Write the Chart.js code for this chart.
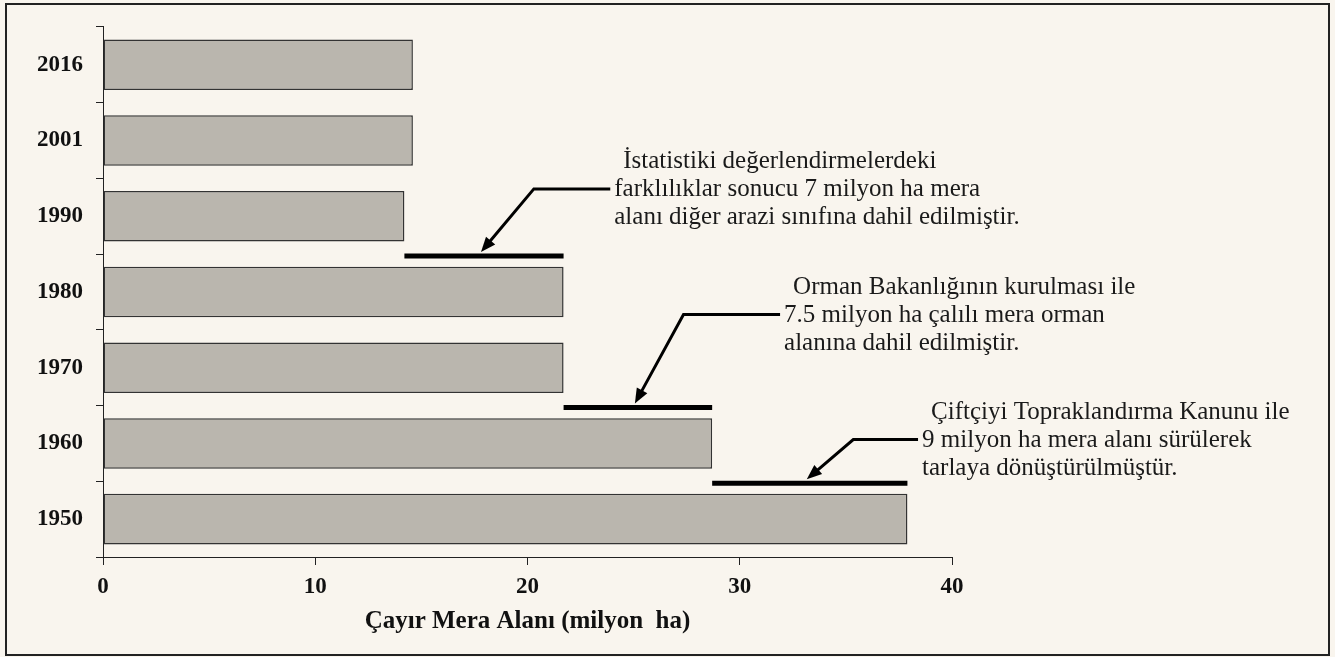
<!DOCTYPE html>
<html lang="tr">
<head>
<meta charset="utf-8">
<title>Çayır Mera Alanı</title>
<script src="https://cdn.jsdelivr.net/npm/chart.js@4.4.1/dist/chart.umd.min.js"></script>
<style>
  html, body { margin: 0; padding: 0; background: #f9f5ee; }
  #chart { display: block; }
</style>
</head>
<body>
<canvas id="chart" width="1335" height="657"></canvas>
<script>
// data
const years = ["2016", "2001", "1990", "1980", "1970", "1960", "1950"];
const areas = [14.6, 14.6, 14.2, 21.7, 21.7, 28.7, 37.9];
const xTicks = [0, 10, 20, 30, 40];
const axisTitle = "Çayır Mera Alanı (milyon  ha)";

const noteTexts = [
  ["İstatistiki değerlendirmelerdeki", "farklılıklar sonucu 7 milyon ha mera", "alanı diğer arazi sınıfına dahil edilmiştir."],
  ["Orman Bakanlığının kurulması ile", "7.5 milyon ha çalılı mera orman", "alanına dahil edilmiştir."],
  ["Çiftçiyi Topraklandırma Kanunu ile", "9 milyon ha mera alanı sürülerek", "tarlaya dönüştürülmüştür."]
];
const noteYears = [["1990", "1980"], ["1970", "1960"], ["1960", "1950"]];

// where each callout sits (value units on x, category index on y)
const noteLayout = [
  { elbow: 20.3, level: 1.64, end: 23.9 },
  { elbow: 27.35, level: 3.3, end: 31.9 },
  { elbow: 35.35, level: 4.95, end: 38.4 }
];

const serif = "'Liberation Serif', 'Times New Roman', serif";

const framePlugin = {
  id: "frame",
  beforeDraw(chart) {
    const ctx = chart.ctx;
    ctx.save();
    ctx.fillStyle = "#f9f5ee";
    ctx.fillRect(0, 0, chart.width, chart.height);
    ctx.strokeStyle = "#222";
    ctx.lineWidth = 2;
    ctx.strokeRect(6, 4, 1323, 651);
    ctx.restore();
  }
};

const notesPlugin = {
  id: "notes",
  afterDatasetsDraw(chart) {
    const { ctx } = chart;
    const x = chart.scales.x;
    const y = chart.scales.y;

    noteTexts.forEach((lines, n) => {
      const i1 = years.indexOf(noteYears[n][0]);
      const i2 = years.indexOf(noteYears[n][1]);
      const x1 = x.getPixelForValue(areas[i1]);
      const x2 = x.getPixelForValue(areas[i2]);
      const lineY = y.getPixelForValue((i1 + i2) / 2) + 2;
      const lay = noteLayout[n];
      const elbowX = x.getPixelForValue(lay.elbow);
      const leadY = y.getPixelForValue(lay.level);
      const endX = x.getPixelForValue(lay.end);
      const tipX = (x1 + x2) / 2 - 3;
      const tipY = lineY - 4;

      ctx.save();
      ctx.strokeStyle = "#000";
      ctx.fillStyle = "#000";

      // thick bar between the two years
      ctx.lineWidth = 5;
      ctx.beginPath();
      ctx.moveTo(x1, lineY);
      ctx.lineTo(x2, lineY);
      ctx.stroke();

      // leader with arrow
      const ang = Math.atan2(tipY - leadY, tipX - elbowX);
      const head = 15;
      const baseX = tipX - Math.cos(ang) * head;
      const baseY = tipY - Math.sin(ang) * head;
      ctx.lineWidth = 3;
      ctx.lineJoin = "miter";
      ctx.beginPath();
      ctx.moveTo(endX, leadY);
      ctx.lineTo(elbowX, leadY);
      ctx.lineTo(baseX + Math.cos(ang) * 2, baseY + Math.sin(ang) * 2);
      ctx.stroke();

      ctx.beginPath();
      ctx.moveTo(tipX, tipY);
      ctx.lineTo(baseX + Math.sin(ang) * 6, baseY - Math.cos(ang) * 6);
      ctx.lineTo(baseX - Math.sin(ang) * 6, baseY + Math.cos(ang) * 6);
      ctx.closePath();
      ctx.fill();

      // text
      ctx.fillStyle = "#1a1a1a";
      ctx.font = "25px " + serif;
      ctx.textAlign = "left";
      ctx.textBaseline = "middle";
      lines.forEach((txt, k) => {
        const tx = endX + 4 + (k === 0 ? 9 : 0);
        ctx.fillText(txt, tx, leadY + (k - 1) * 28 + 1);
      });
      ctx.restore();
    });
  }
};

document.addEventListener("DOMContentLoaded", () => {
  const ctx = document.getElementById("chart").getContext("2d");

  new Chart(ctx, {
    type: "bar",
    data: {
      labels: years,
      datasets: [
        {
          data: areas,
          backgroundColor: "#bab6ae",
          borderColor: "#333",
          borderWidth: 1.5,
          borderSkipped: false,
          barPercentage: 0.667,
          categoryPercentage: 1
        }
      ]
    },
    options: {
      indexAxis: "y",
      responsive: false,
      animation: false,
      devicePixelRatio: 1,
      layout: { padding: { top: 21, right: 383, bottom: 0, left: 0 } },
      plugins: {
        legend: { display: false },
        tooltip: { enabled: false }
      },
      scales: {
        x: {
          min: 0,
          max: 40,
          afterBuildTicks: (scale) => {
            scale.ticks = xTicks.map((v) => ({ value: v }));
          },
          afterFit: (scale) => {
            scale.height = 100;
          },
          grid: { drawOnChartArea: false, tickLength: 8, color: "#222" },
          border: { color: "#222", width: 1 },
          ticks: {
            color: "#111",
            padding: 8,
            maxRotation: 0,
            font: { family: serif, size: 23, weight: "bold" }
          },
          title: {
            display: true,
            text: axisTitle,
            color: "#111",
            padding: { top: 0, bottom: 20 },
            font: { family: serif, size: 25, weight: "bold" }
          }
        },
        y: {
          afterFit: (scale) => {
            scale.width = 103;
          },
          grid: { offset: true, drawOnChartArea: false, tickLength: 7, color: "#222" },
          border: { color: "#222", width: 1 },
          ticks: {
            color: "#111",
            padding: 13,
            font: { family: serif, size: 23, weight: "bold" }
          }
        }
      }
    },
    plugins: [framePlugin, notesPlugin]
  });
});
</script>
</body>
</html>
